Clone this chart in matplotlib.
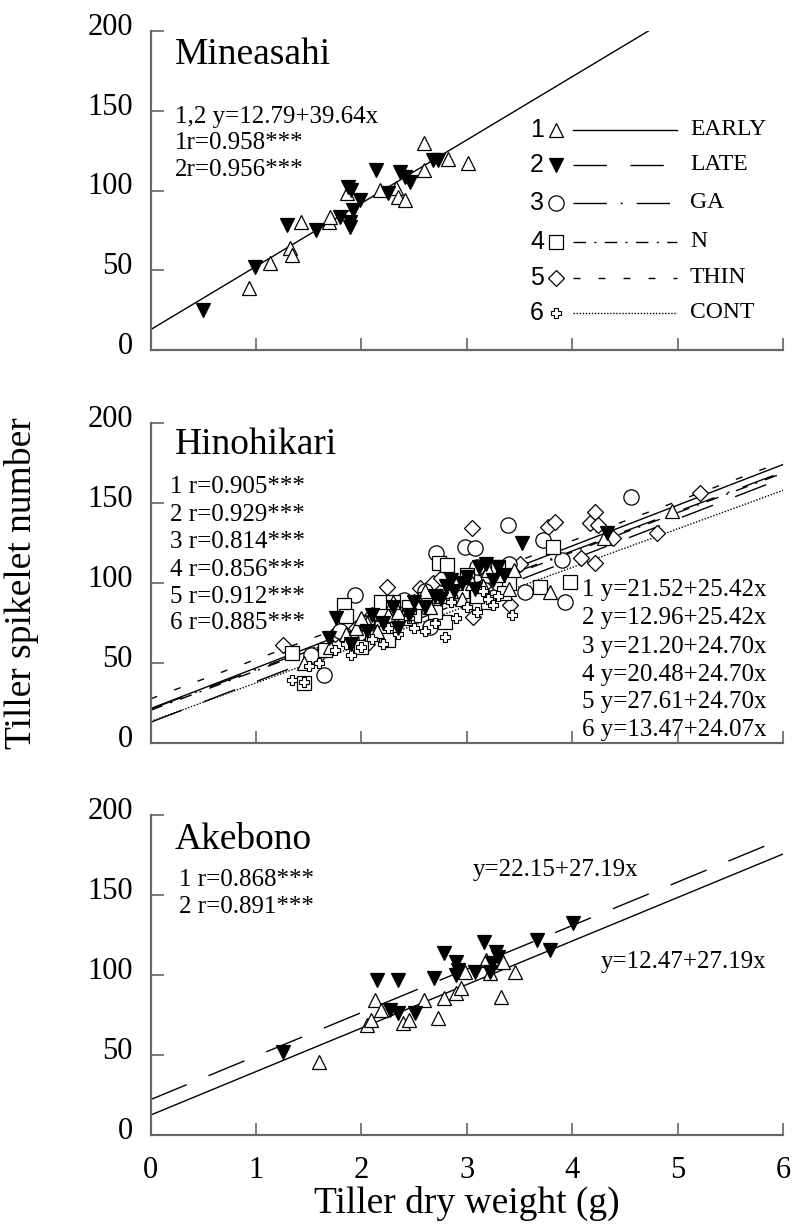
import matplotlib
matplotlib.use("Agg")
import matplotlib.pyplot as plt
from matplotlib.transforms import ScaledTranslation
import numpy as np

plt.rcParams['font.family'] = ['Liberation Serif', 'DejaVu Serif']

# ---------------- data ----------------
# Mineasahi
mine_early_x = [0.93, 1.13, 1.32, 1.34, 1.43, 1.69, 1.70, 1.86, 2.18, 2.33, 2.35, 2.41, 2.59, 2.59, 2.82, 3.01]
mine_early_y = [38.7, 54.3, 63.7, 59.6, 80.4, 80.5, 83.6, 98.2, 100.3, 101.4, 96.1, 94.0, 129.6, 112.9, 119.6, 117.0]
mine_late_x = [0.50, 0.99, 1.29, 1.57, 1.80, 1.87, 1.89, 1.89, 1.90, 1.92, 1.99, 2.14, 2.25, 2.37, 2.41, 2.46, 2.68, 2.73]
mine_late_y = [25.1, 52.2, 78.4, 75.2, 83.6, 102.4, 80.4, 77.3, 100.3, 87.8, 94.0, 112.9, 98.2, 111.8, 108.7, 105.5, 119.1, 119.0]
mine_fit = (12.79, 39.64)

# Hinohikari
hino_early_x = [1.45, 1.70, 1.85, 1.95, 2.05, 2.15, 2.25, 2.35, 2.45, 2.55, 2.65, 2.75, 2.85, 2.95, 3.05, 3.15, 3.30, 3.45, 3.79, 4.30, 4.95,
                2.00, 2.30, 2.60, 2.90, 3.20, 3.40]
hino_early_y = [50, 60, 68, 72, 75, 70, 80, 82, 78, 88, 85, 92, 95, 90, 100, 98, 105, 108, 94.6, 128, 145,
                78, 88, 95, 100, 108, 96]
hino_late_x = [1.69, 1.76, 1.90, 2.05, 2.20, 2.35, 2.45, 2.60, 2.70, 2.80, 2.88, 2.95, 3.00, 3.08, 3.12, 3.18, 3.25, 3.35, 3.52, 4.33,
               2.10, 2.50, 2.75, 2.85, 3.30, 2.30]
hino_late_y = [65.4, 77.9, 62, 70, 75, 72, 80, 85, 92, 98, 95, 100, 104, 96, 110, 112, 102, 105, 124.8, 131,
               80, 88, 90, 102, 110, 85]
hino_ga_x = [1.64, 1.52, 1.94, 1.80, 2.05, 2.20, 2.40, 2.50, 2.65, 2.71, 2.85, 2.98, 3.08, 3.20, 3.30, 3.39, 3.55, 3.72, 3.90, 3.93, 4.56, 2.30, 2.95,
             1.90, 2.22, 2.60, 3.10, 3.40]
hino_ga_y = [42.5, 55, 92.5, 70, 75, 80, 89.4, 82, 72.7, 118.5, 95, 122.5, 121.7, 105, 100, 136.3, 94.6, 127, 114.4, 88.3, 153.9, 72, 90,
             65, 70, 95, 110, 112]
hino_n_x = [1.34, 1.45, 1.83, 1.85, 2.00, 2.10, 2.19, 2.25, 2.30, 2.50, 2.60, 2.74, 2.79, 2.81, 3.20, 2.95, 3.10, 3.30, 3.40, 3.69, 3.82, 3.98, 1.65,
            2.05, 2.45, 2.70, 3.00, 3.35]
hino_n_y = [56, 37.3, 86.3, 79.6, 60, 68, 88.3, 64.4, 88, 80, 90, 112.3, 75.8, 111.3, 88, 95, 92, 110, 100, 97.7, 122.7, 100.8, 58,
            75, 85, 82, 105, 94]
hino_thin_x = [1.26, 1.60, 1.75, 1.95, 2.10, 2.24, 2.40, 2.56, 2.68, 2.85, 3.05, 3.06, 3.25, 3.41, 3.77, 3.84, 4.08, 4.17, 4.22, 4.22, 4.24, 4.39, 4.80, 5.21, 2.05, 2.30,
               1.85, 2.50, 2.75, 3.15, 3.50]
hino_thin_y = [61.2, 55, 68, 72, 80, 97.7, 85, 96.7, 99.8, 90, 134.2, 79, 102, 86.3, 135.2, 138.3, 115.5, 137.3, 144.6, 112.3, 136, 128, 131, 156, 62, 75,
               65, 88, 103, 98, 112]
hino_cont_x = [1.34, 1.45, 1.60, 1.75, 1.90, 2.00, 2.10, 2.20, 2.35, 2.50, 2.60, 2.79, 2.90, 3.00, 3.10, 3.20, 3.30, 3.43, 1.50, 2.70,
               1.85, 2.25, 2.45, 2.85, 3.15, 3.25]
hino_cont_y = [39.4, 38, 50, 58, 55, 60, 65, 62, 68, 72, 70, 66.5, 78, 85, 82, 90, 92, 80, 48, 75,
               62, 72, 78, 88, 95, 86]
hino_fits = {'EARLY': (21.52, 25.42), 'LATE': (12.96, 25.42), 'GA': (21.20, 24.70),
             'N': (20.48, 24.70), 'THIN': (27.61, 24.70), 'CONT': (13.47, 24.07)}

# Akebono
ake_early_x = [1.60, 2.05, 2.09, 2.13, 2.19, 2.39, 2.45, 2.59, 2.73, 2.78, 2.90, 2.94, 2.98, 3.18, 3.22, 3.34, 3.32, 3.46]
ake_early_y = [45.8, 68.8, 71.9, 84.4, 78.1, 69.8, 71.9, 84.4, 72.9, 85.4, 88.5, 91.7, 102.0, 109.4, 101.0, 108.3, 86.5, 102.0]
ake_late_x = [1.26, 2.15, 2.35, 2.27, 2.35, 2.51, 2.69, 2.78, 2.90, 2.92, 2.90, 3.08, 3.16, 3.22, 3.24, 3.28, 3.30, 3.67, 3.79, 4.01]
ake_late_y = [52.1, 96.9, 96.9, 78.1, 76.0, 76.0, 97.9, 113.5, 108.3, 103.1, 100.0, 102.0, 120.8, 102.0, 107.3, 114.6, 111.5, 121.9, 115.6, 132.3]
ake_fits = {'EARLY': (12.47, 27.19), 'LATE': (22.15, 27.19)}

groups = ['EARLY', 'LATE', 'GA', 'N', 'THIN', 'CONT']
y_ticks = [0, 50, 100, 150, 200]
x_ticks = [0, 1, 2, 3, 4, 5, 6]

# ---------------- styles ----------------
mk = {
    'EARLY': dict(marker='^', mfc='white', mec='black', ms=9.5, mew=0.9),
    'LATE': dict(marker='v', mfc='black', mec='black', ms=9.5, mew=0.9),
    'GA': dict(marker='o', mfc='white', mec='black', ms=11, mew=0.9),
    'N': dict(marker='s', mfc='white', mec='black', ms=10, mew=0.9),
    'THIN': dict(marker='D', mfc='white', mec='black', ms=8, mew=0.9),
    'CONT': dict(marker='P', mfc='white', mec='black', ms=7, mew=0.8),
}
ls = {
    'EARLY': '-',
    'LATE': (0, (24, 17)),
    'GA': (0, (24, 10, 1.5, 10)),
    'N': (0, (9, 6, 1.5, 6)),
    'THIN': (0, (5, 13)),
    'CONT': (0, (1, 1.2)),
}
SPINE = '#666666'

fig = plt.figure(figsize=(7.94, 12.26), dpi=100)
W, H = 794.0, 1226.0
L, R = 150.7, 783.0

def make_ax(top, bot, labels=False):
    ax = fig.add_axes([L / W, 1 - bot / H, (R - L) / W, (bot - top) / H])
    ax.set_xlim(0, 6)
    ax.set_ylim(0, 200)
    for s in ['top', 'right']:
        ax.spines[s].set_visible(False)
    for s in ['left', 'bottom']:
        ax.spines[s].set_color(SPINE)
        ax.spines[s].set_linewidth(1.6)
    ax.set_xticks(x_ticks)
    ax.set_yticks(y_ticks)
    ax.tick_params(direction='in', length=9, width=1.2, color=SPINE,
                   labelsize=22, pad=13)
    ax.tick_params(axis='x', pad=15, labelbottom=labels)
    off = ScaledTranslation(0, 7 / 100, fig.dpi_scale_trans)
    for lab in ax.get_yticklabels():
        lab.set_transform(lab.get_transform() + off)
    return ax

def fitline(ax, a, b, style, lw=1.0):
    xs = np.array([0.0, 6.0])
    ax.plot(xs, a + b * xs, color='black', lw=lw, linestyle=style)

def pts(ax, xs, ys, g):
    ax.plot(xs, ys, linestyle='none', **mk[g])

# ---------- Mineasahi ----------
ax1 = make_ax(31, 350)
fitline(ax1, *mine_fit, '-')
pts(ax1, mine_early_x, mine_early_y, 'EARLY')
pts(ax1, mine_late_x, mine_late_y, 'LATE')
ax1.text(0.038, 0.925, 'Mineasahi', transform=ax1.transAxes, fontsize=27, va='center')
ax1.text(0.038, 0.730, '1,2 y=12.79+39.64x', transform=ax1.transAxes, fontsize=18, va='center')
ax1.text(0.038, 0.649, '1r=0.958***', transform=ax1.transAxes, fontsize=18, va='center')
ax1.text(0.038, 0.564, '2r=0.956***', transform=ax1.transAxes, fontsize=18, va='center')

rows = [0.690, 0.580, 0.461, 0.339, 0.226, 0.116]
for i, g in enumerate(groups):
    yy = rows[i]
    ax1.text(0.611, yy, str(i + 1), transform=ax1.transAxes, ha='center', va='center',
             fontsize=18, family=['Liberation Sans', 'DejaVu Sans'])
    ax1.plot([0.641], [yy], transform=ax1.transAxes, clip_on=False, linestyle='none', **mk[g])
    ax1.plot([0.668, 0.832], [yy, yy], transform=ax1.transAxes, color='black', lw=1.0,
             linestyle=ls[g], clip_on=False)
    ax1.text(0.853, yy, g, transform=ax1.transAxes, fontsize=17, va='center')

# ---------- Hinohikari ----------
ax2 = make_ax(423, 743)
for g in groups:
    fitline(ax2, *hino_fits[g], ls[g])
pts(ax2, hino_thin_x, hino_thin_y, 'THIN')
pts(ax2, hino_ga_x, hino_ga_y, 'GA')
pts(ax2, hino_n_x, hino_n_y, 'N')
pts(ax2, hino_early_x, hino_early_y, 'EARLY')
pts(ax2, hino_cont_x, hino_cont_y, 'CONT')
pts(ax2, hino_late_x, hino_late_y, 'LATE')
ax2.text(0.038, 0.931, 'Hinohikari', transform=ax2.transAxes, fontsize=27, va='center')
hino_r = ['0.905', '0.929', '0.814', '0.856', '0.912', '0.885']
r_rows = [0.799, 0.713, 0.629, 0.541, 0.457, 0.374]
for i, r in enumerate(hino_r):
    ax2.text(0.030, r_rows[i], f'{i + 1} r={r}***', transform=ax2.transAxes, fontsize=18, va='center')
eq_rows = [0.478, 0.390, 0.301, 0.2125, 0.129, 0.041]
for i, g in enumerate(groups):
    a, b = hino_fits[g]
    ax2.text(0.682, eq_rows[i], f'{i + 1} y={a:.2f}+{b:.2f}x', transform=ax2.transAxes,
             fontsize=18, va='center')

# ---------- Akebono ----------
ax3 = make_ax(815, 1135, labels=True)
fitline(ax3, *ake_fits['EARLY'], '-')
fitline(ax3, *ake_fits['LATE'], (0, (28, 17)))
pts(ax3, ake_early_x, ake_early_y, 'EARLY')
pts(ax3, ake_late_x, ake_late_y, 'LATE')
ax3.text(0.038, 0.922, 'Akebono', transform=ax3.transAxes, fontsize=27, va='center')
ax3.text(0.045, 0.797, '1 r=0.868***', transform=ax3.transAxes, fontsize=18, va='center')
ax3.text(0.045, 0.713, '2 r=0.891***', transform=ax3.transAxes, fontsize=18, va='center')
ax3.text(0.510, 0.828, 'y=%.2f+%.2fx' % ake_fits['LATE'], transform=ax3.transAxes, fontsize=18, va='center')
ax3.text(0.711, 0.542, 'y=%.2f+%.2fx' % ake_fits['EARLY'], transform=ax3.transAxes, fontsize=18, va='center')
ax3.set_xlabel('Tiller dry weight (g)', fontsize=27, labelpad=1)

fig.text(22 / W, 1 - 583 / H, 'Tiller spikelet number', rotation=90, fontsize=27,
         ha='center', va='center')

fig.savefig('out.png', dpi=100)
